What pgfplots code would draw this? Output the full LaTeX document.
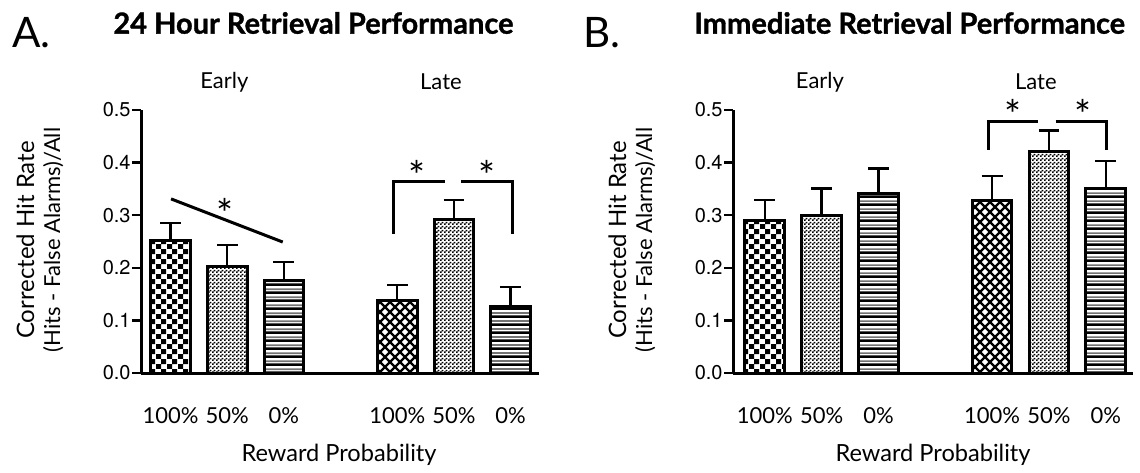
\documentclass[border=0pt]{standalone}
\usepackage{fontspec}
\setmainfont{Lato}
\newfontfamily\ticknum{TeX Gyre Heros}
\newfontfamily\titlefont[BoldFeatures={FakeBold=1.2}]{Lato}
\usepackage{pgfplots}
\pgfplotsset{compat=1.18}
\usetikzlibrary{patterns}

\pgfdeclarepatternformonly{checkerL}{\pgfpointorigin}{\pgfqpoint{5.2pt}{5.2pt}}{\pgfqpoint{5.2pt}{5.2pt}}{%
  \pgfpathrectangle{\pgfpointorigin}{\pgfqpoint{2.6pt}{2.6pt}}%
  \pgfpathrectangle{\pgfqpoint{2.6pt}{2.6pt}}{\pgfqpoint{2.6pt}{2.6pt}}%
  \pgfusepath{fill}}
\pgfdeclarepatternformonly{checkerS}{\pgfpointorigin}{\pgfqpoint{2pt}{2pt}}{\pgfqpoint{2pt}{2pt}}{%
  \pgfpathrectangle{\pgfpointorigin}{\pgfqpoint{1pt}{1pt}}%
  \pgfpathrectangle{\pgfqpoint{1pt}{1pt}}{\pgfqpoint{1pt}{1pt}}%
  \pgfusepath{fill}}
\pgfdeclarepatterninherentlycolored{hlinesBG}{\pgfpointorigin}{\pgfqpoint{2pt}{3.8pt}}{\pgfqpoint{2pt}{3.8pt}}{%
  \pgfsetfillcolor{black}\pgfpathrectangle{\pgfpointorigin}{\pgfqpoint{2pt}{1.4pt}}\pgfusepath{fill}%
  \pgfsetfillcolor{black!55}\pgfpathrectangle{\pgfqpoint{0pt}{2.1pt}}{\pgfqpoint{2pt}{0.9pt}}\pgfusepath{fill}}
\pgfdeclarepatternformonly{diam}{\pgfqpoint{-1pt}{-1pt}}{\pgfqpoint{6pt}{6pt}}{\pgfqpoint{5pt}{5pt}}{%
  \pgfsetlinewidth{1.2pt}%
  \pgfpathmoveto{\pgfqpoint{-0.5pt}{-0.5pt}}\pgfpathlineto{\pgfqpoint{5.5pt}{5.5pt}}%
  \pgfpathmoveto{\pgfqpoint{-0.5pt}{5.5pt}}\pgfpathlineto{\pgfqpoint{5.5pt}{-0.5pt}}%
  \pgfusepath{stroke}}

\pgfplotsset{
  panel/.style={
    scale only axis, height=131.5pt, anchor=south west,
    ymin=0, ymax=0.5,
    axis x line=bottom, axis y line=left,
    axis line style={-, line width=1.5pt},
    ytick={0,0.1,0.2,0.3,0.4,0.5},
    yticklabels={},
    xtick={0,1,2,4,5,6},
    xticklabels={100\%,50\%,0\%,100\%,50\%,0\%},
    xticklabel style={font=\fontsize{11}{11}\selectfont, anchor=center, yshift=-17pt},
    xtick style={draw=none},
    ytick style={line width=1.2pt, black},
    tick align=outside, major tick length=4.5pt,
    clip=false,
  },
  bb/.style={ybar, bar width=0.7, bar shift=0pt, draw=black, line width=1.5pt,
    error bars/y dir=plus, error bars/y explicit, error bars/error mark=|,
    error bars/error bar style={line width=1.2pt, solid},
    error bars/error mark options={line width=1.2pt, mark size=5.2pt, black}},
}
\newcommand\sigstar[1]{\node[font=\fontsize{20}{20}\selectfont, anchor=base, yshift=-10pt] at (#1) {*};}
\newcommand\ylabs{\pgfplotsinvokeforeach{0,1,2,3,4,5}{%
  \node[anchor=east, font=\ticknum\fontsize{10}{10}\selectfont, inner sep=0pt]
    at ([xshift=-5pt]rel axis cs:0,{0.##1*2}) {0.##1};}}

\begin{document}
\begin{tikzpicture}
\useasboundingbox (0,0) rectangle (570pt,236pt);

% text
\node[anchor=west, font=\fontsize{21}{21}\selectfont, inner sep=0pt] at (6pt,219.5pt) {A.};
\node[anchor=west, font=\fontsize{21}{21}\selectfont, inner sep=0pt] at (291.5pt,219.5pt) {B.};
\node[anchor=west, font=\titlefont\bfseries\fontsize{14.5}{14.5}\selectfont, inner sep=0pt] at (56.5pt,224.5pt) {24 Hour Retrieval Performance};
\node[anchor=west, font=\titlefont\bfseries\fontsize{14.5}{14.5}\selectfont, inner sep=0pt] at (347pt,224.5pt) {Immediate Retrieval Performance};
\node[rotate=90, align=center, font=\fontsize{11}{13}\selectfont, inner sep=0pt] at (20pt,116pt) {{\fontsize{12}{13}\selectfont Corrected Hit Rate}\\(Hits - False Alarms)/All};
\node[rotate=90, align=center, font=\fontsize{11}{13}\selectfont, inner sep=0pt] at (316pt,116pt) {{\fontsize{12}{13}\selectfont Corrected Hit Rate}\\(Hits - False Alarms)/All};
\node[font=\fontsize{11.8}{11.8}\selectfont, inner sep=0pt] at (169.5pt,8.5pt) {Reward Probability};
\node[font=\fontsize{11.8}{11.8}\selectfont, inner sep=0pt] at (466.5pt,8.5pt) {Reward Probability};

% Panel A
\begin{axis}[panel, at={(70.5pt,49.5pt)}, width=199pt, xmin=-0.52, xmax=6.5]
\addplot[bb, pattern=checkerL] coordinates {(0,0.252) +- (0,0.033)};
\addplot[bb, pattern=checkerS] coordinates {(1,0.202) +- (0,0.041)};
\addplot[bb, pattern=hlinesBG] coordinates {(2,0.176) +- (0,0.035)};
\addplot[bb, pattern=diam] coordinates {(4,0.137) +- (0,0.030)};
\addplot[bb, pattern=checkerS] coordinates {(5,0.292) +- (0,0.037)};
\addplot[bb, pattern=hlinesBG] coordinates {(6,0.127) +- (0,0.036)};
\ylabs
\node[font=\fontsize{11}{11}\selectfont] at (axis cs:0.95,0.553) {Early};
\node[font=\fontsize{11}{11}\selectfont] at (axis cs:4.77,0.553) {Late};
\draw[line width=1.5pt] (axis cs:0.01,0.331) -- (axis cs:1.98,0.249);
\sigstar{axis cs:0.96,0.312}
\draw[line width=1.5pt] (axis cs:3.94,0.265) |- (axis cs:4.84,0.364);
\draw[line width=1.5pt] (axis cs:5.13,0.364) -| (axis cs:6.03,0.265);
\sigstar{axis cs:4.35,0.385}
\sigstar{axis cs:5.59,0.385}
\end{axis}

% Panel B
\begin{axis}[panel, at={(366.5pt,49.5pt)}, width=200pt, xmin=-0.56, xmax=6.48]
\addplot[bb, pattern=checkerL] coordinates {(0,0.290) +- (0,0.039)};
\addplot[bb, pattern=checkerS] coordinates {(1,0.299) +- (0,0.052)};
\addplot[bb, pattern=hlinesBG] coordinates {(2,0.342) +- (0,0.047)};
\addplot[bb, pattern=diam] coordinates {(4,0.328) +- (0,0.046)};
\addplot[bb, pattern=checkerS] coordinates {(5,0.422) +- (0,0.039)};
\addplot[bb, pattern=hlinesBG] coordinates {(6,0.351) +- (0,0.052)};
\ylabs
\node[font=\fontsize{11}{11}\selectfont] at (axis cs:0.97,0.553) {Early};
\node[font=\fontsize{11}{11}\selectfont] at (axis cs:4.77,0.553) {Late};
\draw[line width=1.5pt] (axis cs:3.94,0.424) |- (axis cs:4.80,0.479);
\draw[line width=1.5pt] (axis cs:5.12,0.479) -| (axis cs:6.02,0.424);
\sigstar{axis cs:4.37,0.501}
\sigstar{axis cs:5.60,0.501}
\end{axis}
\end{tikzpicture}
\end{document}
